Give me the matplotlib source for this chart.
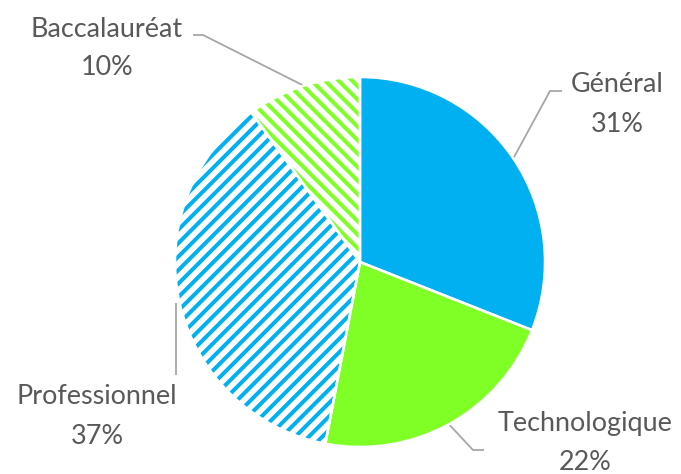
import matplotlib
matplotlib.use("Agg")
import matplotlib.pyplot as plt
import numpy as np

labels = ["Général", "Technologique", "Professionnel", "Baccalauréat"]
values = [31, 22, 37, 10]
pcts = ["31%", "22%", "37%", "10%"]
colors = ["#00B0F0", "#80FF26", "#00B0F0", "#80FF26"]
stripes = [None, None, "/", "\\"]

W, H = 681, 474
fig = plt.figure(figsize=(W / 72, H / 72), dpi=72)
ax = fig.add_axes([0, 0, 1, 1])

cx, cy, R = 360, H - 262, 185
wedges, _ = ax.pie(values, startangle=90, counterclock=False, center=(cx, cy),
                   radius=R, colors=colors, frame=True,
                   wedgeprops=dict(linewidth=0))

# striped (hatched) wedges, drawn as clipped diagonal lines
step = 13.5
offs = np.arange(-2.2 * R, 2.2 * R, step)
xx = np.array([cx - 1.2 * R, cx + 1.2 * R])
for w, c, s in zip(wedges, colors, stripes):
    if s is None:
        continue
    w.set_facecolor("white")
    sign = 1 if s == "/" else -1
    for o in offs:
        ln, = ax.plot(xx, cy + sign * (xx - cx) + o, color=c, lw=4.0,
                      solid_capstyle="butt", zorder=w.get_zorder() + 0.1)
        ln.set_clip_path(w)

# white separators
ax.pie(values, startangle=90, counterclock=False, center=(cx, cy),
       radius=R, frame=True,
       wedgeprops=dict(fill=False, edgecolor="white", linewidth=2.5, zorder=5))

ax.set_xlim(0, W)
ax.set_ylim(0, H)
ax.set_aspect("equal")
ax.axis("off")

txt = dict(color="#595959", fontsize=27, family="Lato", ha="center", va="center")
lc = dict(color="#A6A6A6", lw=1.8, solid_capstyle="butt")

# mid angles
cum = np.cumsum([0] + values)
mids = [90 - 3.6 * (cum[i] + cum[i + 1]) / 2 for i in range(len(values))]
starts = [(cx + (R + 1) * np.cos(np.radians(a)), cy + (R + 1) * np.sin(np.radians(a))) for a in mids]

# Général
sx, sy = starts[0]
ax.plot([sx, 550, 562], [sy, H - 91, H - 91], **lc)
ax.text(617, H - 84, labels[0], **txt)
ax.text(617, H - 124, pcts[0], **txt)

# Technologique
sx, sy = starts[1]
ax.plot([sx, 473, 484], [sy, H - 450, H - 450], **lc)
ax.text(585, H - 424, labels[1], **txt)
ax.text(585, H - 462, pcts[1], **txt)

# Professionnel
sx, sy = starts[2]
ax.plot([176, 176], [sy, H - 375], **lc)
ax.text(97, H - 396, labels[2], **txt)
ax.text(97, H - 436, pcts[2], **txt)

# Baccalauréat
sx, sy = starts[3]
ax.plot([sx, 203, 193], [sy, H - 35, H - 35], **lc)
ax.text(107, H - 29, labels[3], **txt)
ax.text(107, H - 67, pcts[3], **txt)

fig.savefig("out.png", dpi=72, facecolor="white")
